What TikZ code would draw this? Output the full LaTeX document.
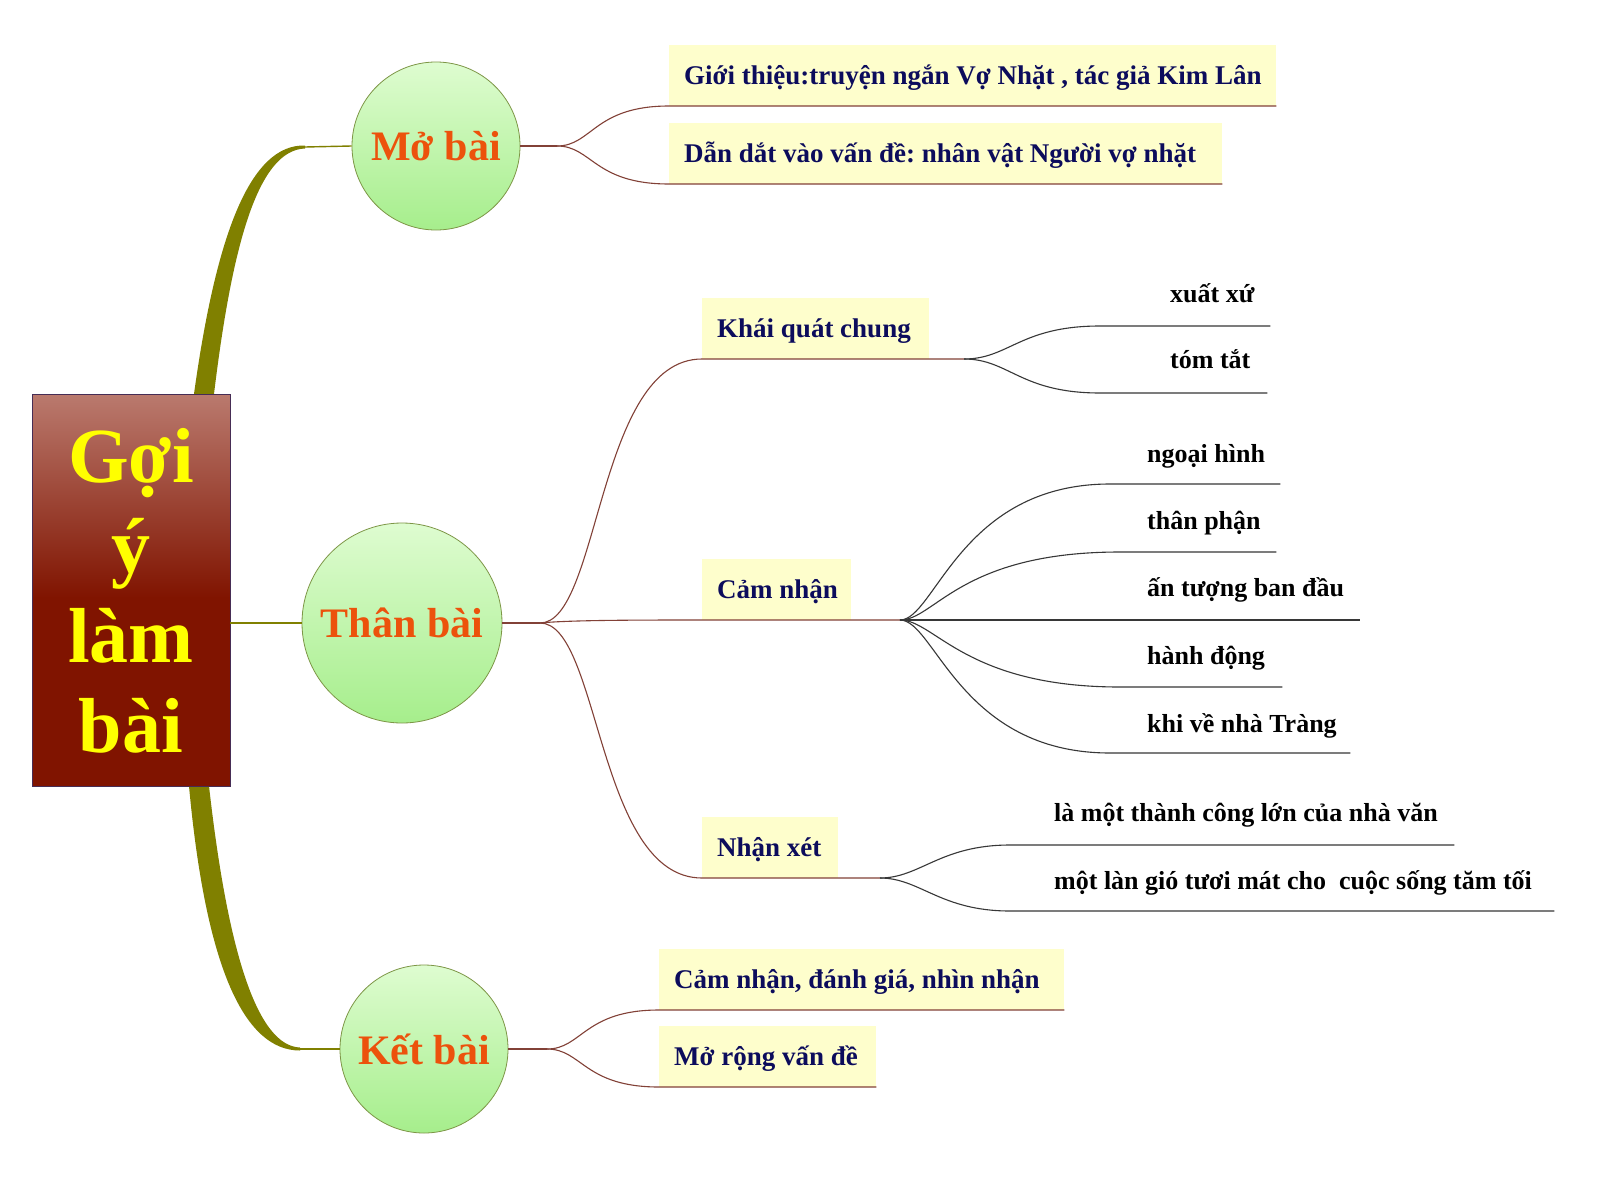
\documentclass[tikz,border=0pt]{standalone}
\usepackage{fontspec}
\setmainfont{Liberation Serif}
\frenchspacing
\definecolor{olv}{RGB}{128,128,0}
\definecolor{brn}{RGB}{130,65,55}
\definecolor{dgr}{RGB}{55,55,55}
\definecolor{navy}{RGB}{12,12,92}
\definecolor{orng}{RGB}{236,82,12}
\definecolor{ylw}{RGB}{255,255,0}
\definecolor{yboxc}{RGB}{254,254,204}
\definecolor{cgtop}{RGB}{222,252,208}
\definecolor{cgbot}{RGB}{166,238,140}
\definecolor{circb}{RGB}{125,150,70}
\definecolor{rtop}{RGB}{186,122,110}
\definecolor{rdark}{RGB}{128,20,0}
\definecolor{rbord}{RGB}{70,45,85}
\pgfdeclareverticalshading{rootshade}{100bp}{color(0bp)=(rdark); color(25bp)=(rdark); color(49bp)=(rdark); color(75bp)=(rtop); color(100bp)=(rtop)}
\newcommand\mmBoxFont{\fontsize{27}{32}\selectfont\bfseries}
\newcommand\mmLeafFont{\fontsize{26}{31}\selectfont\bfseries}
\newcommand\mmCircFont{\fontsize{42}{50}\selectfont\bfseries}
\newcommand\mmRootFont{\fontsize{78}{90}\selectfont\bfseries}
\begin{document}
\begin{tikzpicture}[x=1pt,y=-1pt,
  circ/.style={circle, draw=circb, line width=0.8pt, top color=cgtop, bottom color=cgbot,
    minimum size=#1, inner sep=0pt, text=orng, font=\mmCircFont},
  ybox/.style={fill=yboxc, anchor=south west, inner xsep=15pt, inner ysep=0pt,
    text height=40pt, text depth=21pt, text=navy, font=\mmBoxFont},
  leafn/.style={anchor=south west, inner sep=0pt, text height=30pt, text=black, font=\mmLeafFont},
  lone/.style={draw=brn, line width=1.1pt},
  ltwo/.style={draw=dgr, line width=1.1pt},
  olvline/.style={draw=olv, line width=1.4pt}]
\useasboundingbox (0,0) rectangle (1600,1183);
\fill[white] (0,0) rectangle (1600,1183);

% tapered trunks
\coordinate (tA) at (194,394);
\coordinate (tB) at (214,394);
\coordinate (tTop) at (305,147);
\fill[olv] (tA) .. controls (216,235) and (250,144) .. (305,145.5) -- (305,148.5) .. controls (258,150) and (232,245) .. (tB) -- cycle;
\coordinate (bA) at (189,786);
\coordinate (bB) at (209,786);
\coordinate (tBot) at (300,1049);
\fill[olv] (bA) .. controls (206,970) and (245,1050.5) .. (300,1050.5) -- (300,1047.5) .. controls (258,1046) and (228,955) .. (bB) -- cycle;

% root
\node[draw=rbord, line width=0.8pt, shading=rootshade, minimum width=198pt, minimum height=392pt, inner sep=0pt] (root) at (131,590) {};
\node[align=center, text=ylw, font=\mmRootFont, inner sep=0pt] (roottext) at (131,591) {Gợi\\ý\\làm\\bài};

% level 1 circles
\node[circ=168pt] (mb) at (436,146) {Mở bài};
\node[circ=200pt] (tb) at (402,623) {Thân bài};
\node[circ=168pt] (kb) at (424,1049) {Kết bài};

\draw[olvline] (tTop) -- (mb.west);
\draw[olvline] (tBot) -- (kb.west);
\draw[olvline] (root.east |- tb.west) -- (tb.west);

% boxes
\node[ybox] (b1) at (669,106) {\makebox[577pt][l]{Giới thiệu:truyện ngắn Vợ Nhặt , tác giả Kim Lân}};
\node[ybox] (b2) at (669,184) {\makebox[523pt][l]{Dẫn dắt vào vấn đề: nhân vật Người vợ nhặt}};
\node[ybox] (kq) at (702,359) {\makebox[197pt][l]{Khái quát chung}};
\node[ybox] (cn) at (702,620) {\makebox[119pt][l]{Cảm nhận}};
\node[ybox] (nx) at (702,878) {\makebox[106pt][l]{Nhận xét}};
\node[ybox] (k1) at (659,1010) {\makebox[375pt][l]{Cảm nhận, đánh giá, nhìn nhận}};
\node[ybox] (k2) at (659,1087) {\makebox[187pt][l]{Mở rộng vấn đề}};

% leaves
\node[leafn, text depth=23pt] (x1) at (1100,326) {\makebox[170pt][l]{\hspace{70pt}xuất xứ}};
\node[leafn, text depth=24pt] (x2) at (1100,393) {\makebox[167pt][l]{\hspace{70pt}tóm tắt}};
\node[leafn, text depth=21pt] (c1) at (1110,484) {\makebox[170pt][l]{\hspace{37pt}ngoại hình}};
\node[leafn, text depth=22pt] (c2) at (1120,552) {\makebox[156pt][l]{\hspace{27pt}thân phận}};
\node[leafn, text depth=23pt] (c3) at (1000,620) {\makebox[360pt][l]{\hspace{147pt}ấn tượng ban đầu}};
\node[leafn, text depth=22pt] (c4) at (1120,687) {\makebox[162pt][l]{\hspace{27pt}hành động}};
\node[leafn, text depth=20pt] (c5) at (1110,753) {\makebox[240pt][l]{\hspace{37pt}khi về nhà Tràng}};
\node[leafn, text depth=23pt] (n1) at (1010,845) {\makebox[444pt][l]{\hspace{44pt}là một thành công lớn của nhà văn}};
\node[leafn, text depth=21pt] (n2) at (1010,911) {\makebox[544pt][l]{\hspace{44pt}một làn gió tươi mát cho~ cuộc sống tăm tối}};

% split points
\coordinate (mbs) at (557,146);
\coordinate (tbs) at (540,623);
\coordinate (kbs) at (547,1049);
\coordinate (kqs) at (964,359);
\coordinate (cns) at (900,620);
\coordinate (nxs) at (880,878);

% Mở bài
\draw[lone] (mb.east) -- (mbs);
\draw[lone] (mbs) .. controls +(35,0) and +(-75,0) .. (b1.south west) -- (b1.south east);
\draw[lone] (mbs) .. controls +(35,0) and +(-75,0) .. (b2.south west) -- (b2.south east);
% Thân bài
\draw[lone] (tb.east) -- (tbs);
\draw[lone] (tbs) .. controls +(60,0) and +(-105,0) .. (kq.south west) -- (kq.south east) -- (kqs);
\draw[lone] (tbs) .. controls +(30,-3) and +(-60,0) .. (cn.south west) -- (cn.south east) -- (cns);
\draw[lone] (tbs) .. controls +(60,0) and +(-105,0) .. (nx.south west) -- (nx.south east) -- (nxs);
% Kết bài
\draw[lone] (kb.east) -- (kbs);
\draw[lone] (kbs) .. controls +(35,0) and +(-75,0) .. (k1.south west) -- (k1.south east);
\draw[lone] (kbs) .. controls +(35,0) and +(-75,0) .. (k2.south west) -- (k2.south east);

% Khái quát fan
\draw[ltwo] (kqs) .. controls +(45,0) and +(-80,0) .. (x1.south west) -- (x1.south east);
\draw[ltwo] (kqs) .. controls +(45,0) and +(-80,0) .. (x2.south west) -- (x2.south east);
% Cảm nhận fan
\draw[ltwo] (cns) .. controls +(35,0) and +(-150,0) .. (c1.south west) -- (c1.south east);
\draw[ltwo] (cns) .. controls +(35,0) and +(-160,0) .. (c2.south west) -- (c2.south east);
\draw[ltwo] (cns) -- (c3.south west) -- (c3.south east);
\draw[ltwo] (cns) .. controls +(35,0) and +(-155,0) .. (c4.south west) -- (c4.south east);
\draw[ltwo] (cns) .. controls +(35,0) and +(-150,0) .. (c5.south west) -- (c5.south east);
% Nhận xét fan
\draw[ltwo] (nxs) .. controls +(40,0) and +(-70,0) .. (n1.south west) -- (n1.south east);
\draw[ltwo] (nxs) .. controls +(40,0) and +(-70,0) .. (n2.south west) -- (n2.south east);
\end{tikzpicture}
\end{document}
